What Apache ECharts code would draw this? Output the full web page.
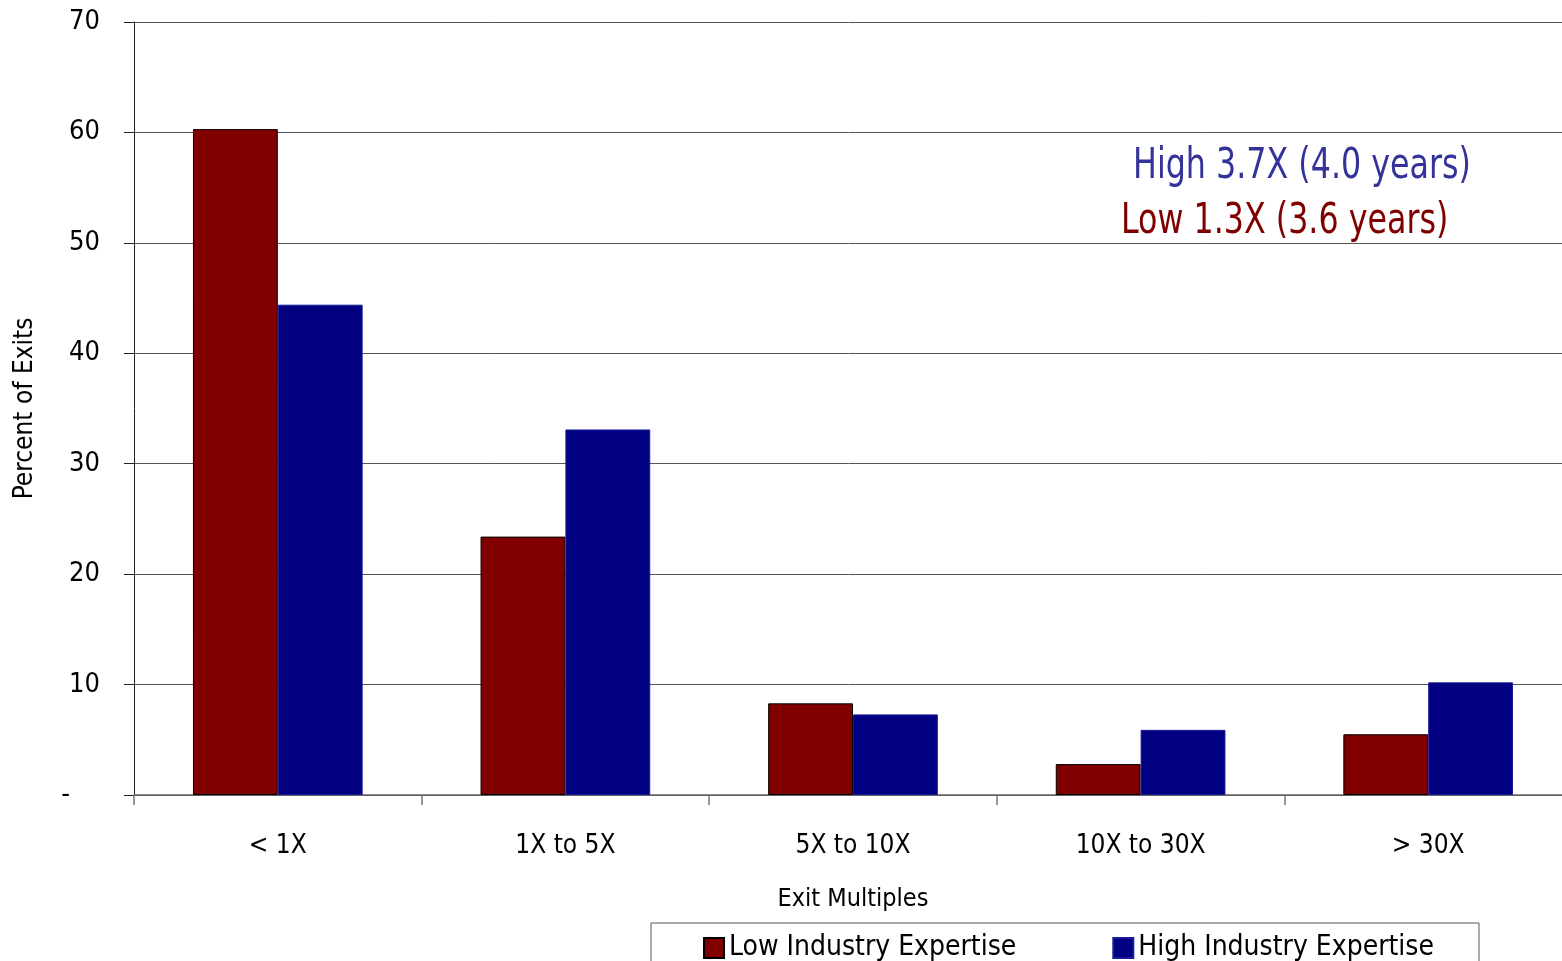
<!DOCTYPE html>
<html>
<head>
<meta charset="utf-8">
<script src="https://cdn.jsdelivr.net/npm/echarts@6/dist/echarts.min.js"></script>
<style>
  html, body { margin: 0; padding: 0; background: #fff; }
  #chart { width: 1562px; height: 961px; }
</style>
</head>
<body>
<div id="chart"></div>
<script>
// Exit multiple buckets and share of exits (%) per expertise group
const categories = ['< 1X', '1X to 5X', '5X to 10X', '10X to 30X', '> 30X'];
const lowExpertise = [60.3, 23.4, 8.3, 2.8, 5.5];
const highExpertise = [44.4, 33.1, 7.3, 5.9, 10.2];
const seriesNames = ['Low Industry Expertise', 'High Industry Expertise'];
const summaryHigh = 'High 3.7X (4.0 years)';
const summaryLow = 'Low 1.3X (3.6 years)';

const FONT = '"Liberation Sans Narrow", "Arial Narrow", "DejaVu Sans Condensed", sans-serif';
const LOW_COLOR = '#800000';
const HIGH_COLOR = '#000080';

const chart = echarts.init(document.getElementById('chart'));
chart.setOption({
  backgroundColor: '#ffffff',
  animation: false,
  textStyle: { fontFamily: FONT },
  grid: { left: 134, right: -10, top: 22, bottom: 166, containLabel: false, outerBoundsMode: 'none' },
  legend: {
    data: seriesNames,
    left: 651,
    top: 923,
    orient: 'horizontal',
    icon: 'rect',
    itemWidth: 20,
    itemHeight: 20,
    itemGap: 96,
    itemTextGap: 10,
    padding: [11, 45, 10, 52],
    borderColor: '#555',
    borderWidth: 1,
    textStyle: { fontFamily: FONT, fontSize: 28, color: '#000' }
  },
  xAxis: {
    type: 'category',
    data: categories,
    name: 'Exit Multiples',
    nameLocation: 'middle',
    nameGap: 92,
    nameTextStyle: { fontFamily: FONT, fontSize: 25, color: '#000' },
    axisLine: { lineStyle: { color: '#666', width: 1.5 } },
    axisTick: { show: true, alignWithLabel: false, length: 10, lineStyle: { color: '#777', width: 1.5 } },
    axisLabel: { margin: 38, fontFamily: FONT, fontSize: 26, color: '#000' }
  },
  yAxis: {
    type: 'value',
    min: 0,
    max: 70,
    interval: 10,
    name: 'Percent of Exits',
    nameLocation: 'middle',
    nameGap: 96,
    nameRotate: 90,
    nameTextStyle: { fontFamily: FONT, fontSize: 26, color: '#000' },
    axisLine: { show: true, lineStyle: { color: '#222', width: 1 } },
    axisTick: { show: true, inside: false, length: 10, lineStyle: { color: '#222', width: 1 } },
    axisLabel: {
      margin: 34,
      fontFamily: FONT,
      fontSize: 27,
      color: '#000',
      formatter: v => (v === 0 ? '{dash|-}' : String(v)),
      rich: { dash: { fontFamily: FONT, fontSize: 27, color: '#000', padding: [0, 30, 0, 0] } }
    },
    splitLine: { show: true, lineStyle: { color: '#555', width: 1 } }
  },
  series: [
    {
      name: seriesNames[0],
      type: 'bar',
      data: lowExpertise,
      barGap: '0%',
      barCategoryGap: '41%',
      itemStyle: { color: LOW_COLOR, borderColor: '#000', borderWidth: 1 }
    },
    {
      name: seriesNames[1],
      type: 'bar',
      data: highExpertise,
      barGap: '0%',
      barCategoryGap: '41%',
      itemStyle: { color: HIGH_COLOR, borderColor: '#1a1a99', borderWidth: 1 }
    }
  ],
  graphic: [
    {
      type: 'text',
      x: 1133,
      y: 167,
      scaleX: 0.84,
      style: { text: summaryHigh, fontFamily: FONT, fontSize: 42, fill: '#333399', align: 'left', verticalAlign: 'middle' }
    },
    {
      type: 'text',
      x: 1121,
      y: 222,
      scaleX: 0.84,
      style: { text: summaryLow, fontFamily: FONT, fontSize: 42, fill: '#800000', align: 'left', verticalAlign: 'middle' }
    }
  ]
});
</script>
</body>
</html>
